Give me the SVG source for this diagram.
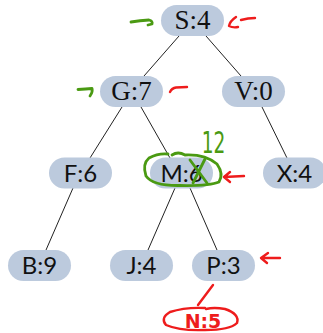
<svg xmlns="http://www.w3.org/2000/svg" width="323" height="333" viewBox="0 0 323 333">
<style>
.pill{fill:#bccadd}
.serif{font-family:"Liberation Serif","Times New Roman",serif;font-size:27px;fill:#111;text-anchor:middle}
.sans{font-family:Lato,"Open Sans",sans-serif;font-size:24px;fill:#111;text-anchor:middle}
.edge{stroke:#222;stroke-width:1;fill:none}
.g{stroke:#4a9a12;stroke-width:2.8;fill:none;stroke-linecap:round;stroke-linejoin:round}
.r{stroke:#ee1c1c;stroke-width:2.4;fill:none;stroke-linecap:round;stroke-linejoin:round}
</style>
<rect width="323" height="333" fill="#fff"/>
<g id="connectors">
<line class="edge" x1="179" y1="36" x2="144" y2="76"/>
<line class="edge" x1="206" y1="36" x2="241" y2="76"/>
<line class="edge" x1="122" y1="107" x2="90" y2="158"/>
<line class="edge" x1="141" y1="107" x2="170" y2="158"/>
<line class="edge" x1="262" y1="107" x2="287" y2="158"/>
<line class="edge" x1="73" y1="188" x2="46" y2="250"/>
<line class="edge" x1="175" y1="188" x2="148" y2="250"/>
<line class="edge" x1="190" y1="188" x2="217" y2="250"/>
</g>
<g id="node-S"><rect class="pill" x="161" y="5" width="63" height="31" rx="15.5"/><text class="serif" x="192.5" y="29">S:4</text></g>
<g id="node-G"><rect class="pill" x="100" y="76" width="63" height="31" rx="15.5"/><text class="serif" x="131.5" y="100">G:7</text></g>
<g id="node-V"><rect class="pill" x="222" y="76" width="63" height="31" rx="15.5"/><text class="serif" x="253.5" y="100">V:0</text></g>
<g id="node-F"><rect class="pill" x="49" y="157.5" width="63" height="31" rx="15.5"/><text class="sans" x="80.5" y="181.7">F:6</text></g>
<g id="node-M"><rect class="pill" x="150" y="157.5" width="63" height="31" rx="15.5"/><text class="sans" x="181.5" y="181.7">M:6</text></g>
<g id="node-X"><rect class="pill" x="263" y="157.5" width="63" height="31" rx="15.5"/><text class="sans" x="294.5" y="181.7">X:4</text></g>
<g id="node-B"><rect class="pill" x="8" y="250" width="63" height="31" rx="15.5"/><text class="sans" x="39.5" y="274.2">B:9</text></g>
<g id="node-J"><rect class="pill" x="110" y="250" width="63" height="31" rx="15.5"/><text class="sans" x="141.5" y="274.2">J:4</text></g>
<g id="node-P"><rect class="pill" x="192" y="250" width="63" height="31" rx="15.5"/><text class="sans" x="223.5" y="274.2">P:3</text></g>
<g id="annotations">
<path class="g" d="M131 22 Q140 20.5 149 20 Q153 21 152 24 L148 25"/>
<path class="g" d="M78 89.5 Q86 89 92 88.5 Q93 92 90 96"/>
<path class="r" d="M236 17 Q230 21 229 26 Q233 28 238 27 M241 20 Q248 18 255 18"/>
<path class="r" d="M170 92 Q172 88 176 87.5 Q182 87 187 87"/>
<path class="g" d="M168 154 Q158 153 149 158 Q142 164 146 176 Q153 186 180 185.5 Q210 186 219 182 Q224 174 217 164 Q205 154 185 155 Q178 151 172 155"/>
<path class="g" d="M190 160 L207 183 M205 159 L193 183"/>
<text x="213.5" y="153" style="font-family:'DejaVu Sans',sans-serif;font-size:30px;fill:#4a9a12;text-anchor:middle" transform="translate(213.5 153) scale(0.62 1) translate(-213.5 -153)">12</text>
<path class="r" d="M244 176 L224 177 M230 172 L224 177 L230 182"/>
<path class="r" d="M280 258 L262 258 M268 253 L261 258 L267 263"/>
<path class="r" d="M213 285 L198 305"/>
<path class="r" d="M205 308 Q185 307 170 312 Q160 318 166 325 Q180 331 205 330 Q230 330 237 323 Q240 314 225 309 Q214 307 206 309"/>
<text x="203" y="328" style="font-family:'DejaVu Sans',sans-serif;font-size:19px;font-weight:bold;fill:#ee1c1c;text-anchor:middle">N:5</text>
</g>
</svg>
